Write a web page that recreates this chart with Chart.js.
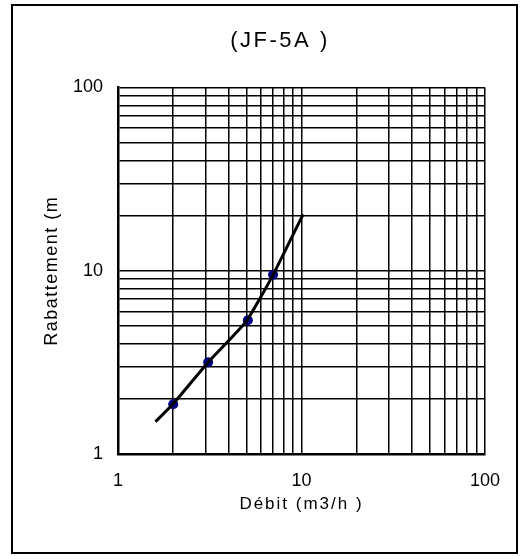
<!DOCTYPE html>
<html>
<head>
<meta charset="utf-8">
<script src="https://cdn.jsdelivr.net/npm/chart.js@4"></script>
<style>
  html, body { margin: 0; padding: 0; background: #fff; }
  #wrap { position: relative; width: 529px; height: 556px; }
  #c { position: absolute; left: 0; top: 0; }
  #frame { position: absolute; left: 11px; top: 4px; width: 507px; height: 550px;
           box-sizing: border-box; border: 2px solid #000; pointer-events: none; }
</style>
</head>
<body>
<div id="wrap">
  <canvas id="c" width="529" height="556"></canvas>
  <div id="frame"></div>
</div>
<script>
// ---- data ----
const chartTitle = '(JF-5A )';
const xTitle = 'Débit (m3/h )';
const yTitle = 'Rabattement (m';

const pointsX = [2.0, 3.1, 5.1, 7.0];
const pointsY = [1.87, 3.17, 5.37, 9.5];

const curveX = [1.6, 2.0, 3.1, 5.0, 7.0, 10.2];
const curveY = [1.5, 1.88, 3.17, 5.3, 9.5, 20.3];

const gridTicks = [1, 2, 3, 4, 5, 6, 7, 8, 9, 10, 20, 30, 40, 50, 60, 70, 80, 90, 100];
const labelledTicks = [1, 10, 100];

// ---- helpers ----
const toXY = (xs, ys) => xs.map((x, i) => ({ x: x, y: ys[i] }));
const setTicks = (scale) => { scale.ticks = gridTicks.map(v => ({ value: v })); };
const tickLabel = (v) => labelledTicks.includes(v) ? String(v) : '';

const spacingPlugin = {
  id: 'letterSpacing',
  beforeDraw(chart) {
    const wrap = (obj, key, sp) => {
      if (!obj || obj['_sp_' + key]) return;
      const orig = obj[key];
      obj[key] = function (...a) {
        const c = chart.ctx;
        c.save();
        c.letterSpacing = sp;
        orig.apply(this, a);
        c.restore();
      };
      obj['_sp_' + key] = true;
    };
    wrap(chart.titleBlock, 'draw', '2.5px');
    wrap(chart.scales.x, 'drawTitle', '2px');
    wrap(chart.scales.y, 'drawTitle', '1.5px');
  }
};

const fam = '"Liberation Sans", Arial, sans-serif';
const tickFont = { family: fam, size: 18 };

new Chart(document.getElementById('c'), {
  type: 'scatter',
  data: {
    datasets: [
      {
        label: 'courbe',
        data: toXY(curveX, curveY),
        showLine: true,
        borderColor: '#000',
        borderWidth: 3,
        pointRadius: 0,
        tension: 0.15,
        fill: false
      },
      {
        label: 'mesures',
        data: toXY(pointsX, pointsY),
        showLine: false,
        pointRadius: 5,
        pointBackgroundColor: '#000080',
        pointBorderColor: '#000080',
        pointBorderWidth: 0
      }
    ]
  },
  options: {
    responsive: false,
    animation: false,
    devicePixelRatio: 1,
    layout: { padding: { left: 31, right: 0, top: 0, bottom: 0 } },
    plugins: {
      legend: { display: false },
      tooltip: { enabled: false },
      title: {
        display: true,
        text: chartTitle,
        color: '#000',
        font: { family: fam, size: 22, weight: 'normal' },
        padding: { top: 28, bottom: 33.1 }
      }
    },
    scales: {
      x: {
        type: 'logarithmic',
        position: 'bottom',
        min: 1, max: 100,
        afterBuildTicks: setTicks,
        afterFit: (s) => { s.height = 102; },
        grid: { color: '#000', lineWidth: 1.5, drawTicks: false },
        border: { display: true, color: '#000', width: 2.5 },
        ticks: { autoSkip: false, maxRotation: 0, color: '#000', font: tickFont, padding: 16, callback: tickLabel },
        title: { display: true, text: xTitle, color: '#000', font: { family: fam, size: 17 }, padding: { top: 0, bottom: 41.8 } }
      },
      y: {
        type: 'logarithmic',
        position: 'left',
        min: 1, max: 100,
        afterBuildTicks: setTicks,
        afterFit: (s) => { s.width = 87; },
        grid: { color: '#000', lineWidth: 1.5, drawTicks: false },
        border: { display: true, color: '#000', width: 2.5 },
        ticks: { autoSkip: false, color: '#000', font: tickFont, padding: 15, callback: tickLabel },
        title: { display: true, text: yTitle, color: '#000', font: { family: fam, size: 18 }, padding: { top: 10.2, bottom: 0 } }
      },
      spacer: {
        type: 'linear',
        position: 'right',
        display: true,
        afterFit: (s) => { s.width = 44; },
        grid: { display: false, drawTicks: false },
        border: { display: false },
        ticks: { display: false }
      }
    }
  },
  plugins: [spacingPlugin]
});
</script>
</body>
</html>
